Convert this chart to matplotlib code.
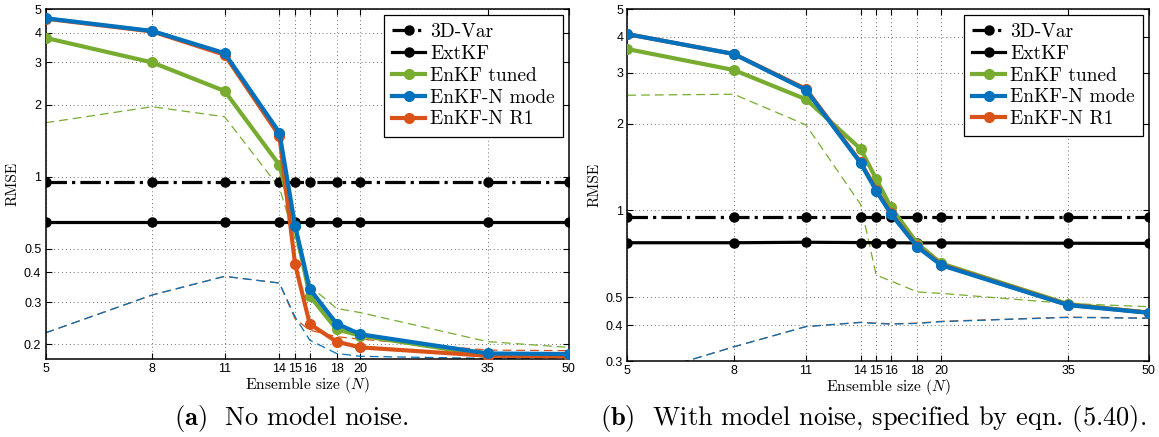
import matplotlib
matplotlib.use("Agg")
import matplotlib.pyplot as plt
from matplotlib.ticker import FixedLocator, FixedFormatter, NullLocator

plt.rcParams["mathtext.fontset"] = "cm"
plt.rcParams["axes.unicode_minus"] = False

# Ensemble sizes
N = [5, 8, 11, 14, 15, 16, 18, 20, 35, 50]

# (a) no model noise
var3d_a = [0.95, 0.95, 0.95, 0.95, 0.95, 0.95, 0.95, 0.95, 0.95, 0.95]
extkf_a = [0.645, 0.645, 0.645, 0.645, 0.645, 0.645, 0.645, 0.645, 0.645, 0.645]
tuned_a = [3.80, 3.00, 2.28, 1.12, 0.62, 0.318, 0.231, 0.217, 0.180, 0.179]
mode_a = [4.59, 4.06, 3.28, 1.53, 0.624, 0.340, 0.244, 0.220, 0.183, 0.182]
r1_a = [4.57, 4.04, 3.23, 1.48, 0.432, 0.243, 0.205, 0.194, 0.179, 0.178]
tuned_spread_a = [1.68, 1.96, 1.78, 0.90, 0.55, 0.35, 0.282, 0.271, 0.205, 0.194]
mode_spread_a = [0.223, 0.321, 0.384, 0.360, 0.260, 0.208, 0.183, 0.178, 0.1745, 0.1745]
r1_spread_a = [0.223, 0.321, 0.384, 0.360, 0.255, 0.229, 0.215, 0.210, 0.189, 0.188]

# (b) with model noise
var3d_b = [0.95, 0.95, 0.95, 0.95, 0.95, 0.95, 0.95, 0.95, 0.95, 0.95]
extkf_b = [0.772, 0.772, 0.775, 0.773, 0.772, 0.772, 0.771, 0.771, 0.769, 0.768]
tuned_b = [3.63, 3.07, 2.43, 1.635, 1.287, 1.027, 0.767, 0.654, 0.473, 0.441]
mode_b = [4.09, 3.49, 2.62, 1.46, 1.17, 0.974, 0.746, 0.645, 0.469, 0.441]
r1_b = [4.09, 3.49, 2.64, 1.47, 1.18, 0.98, 0.750, 0.648, 0.470, 0.442]
tuned_spread_b = [2.51, 2.53, 1.98, 1.05, 0.596, 0.569, 0.521, 0.515, 0.475, 0.463]
mode_spread_b = [0.26, 0.336, 0.395, 0.408, 0.405, 0.403, 0.405, 0.411, 0.425, 0.422]
r1_spread_b = [0.26, 0.336, 0.395, 0.409, 0.406, 0.404, 0.406, 0.412, 0.426, 0.423]

# Axis ticks
x_ticks = [5, 8, 11, 14, 15, 16, 18, 20, 35, 50]
x_ticklabels = ["5", "8", "11", "14", "15", "16", "18", "20", "35", "50"]
y_ticks_a = [0.2, 0.3, 0.4, 0.5, 1, 2, 3, 4, 5]
y_ticklabels_a = ["0.2", "0.3", "0.4", "0.5", "1", "2", "3", "4", "5"]
y_ticks_b = [0.3, 0.4, 0.5, 1, 2, 3, 4, 5]
y_ticklabels_b = ["0.3", "0.4", "0.5", "1", "2", "3", "4", "5"]

C_BLUE = "#0072BD"
C_ORANGE = "#D95319"
C_GREEN = "#77AC30"

SERIF = "cmr10"
TICKFONT = "Liberation Sans"

W, H = 1159, 437
fig = plt.figure(figsize=(W / 100, H / 100), dpi=100)


def axes_px(x0, x1, y0, y1):
    return fig.add_axes([x0 / W, 1 - y1 / H, (x1 - x0) / W, (y1 - y0) / H])


def draw_panel(ax, var3d, extkf, tuned, mode, r1, tsp, msp, rsp,
               ylim, yticks, yticklabels):
    ax.set_xscale("log")
    ax.set_yscale("log")

    dash = (0, (7, 4))
    ax.plot(N, tsp, color=C_GREEN, lw=0.9, ls=dash, zorder=2)
    ax.plot(N, rsp, color=C_ORANGE, lw=0.9, ls=dash, zorder=2)
    ax.plot(N, msp, color=C_BLUE, lw=0.9, ls=dash, zorder=2)

    ax.plot(N, var3d, color="black", lw=2.3, ls="-.", marker="o", ms=6.5,
            label="3D-Var", zorder=3)
    ax.plot(N, extkf, color="black", lw=2.3, ls="-", marker="o", ms=6.5,
            label="ExtKF", zorder=3)
    ax.plot(N, tuned, color=C_GREEN, lw=3.0, marker="o", ms=7,
            label="EnKF tuned", zorder=4)
    ax.plot(N, r1, color=C_ORANGE, lw=3.0, marker="o", ms=7,
            label="EnKF-N R1", zorder=5)
    ax.plot(N, mode, color=C_BLUE, lw=3.0, marker="o", ms=7,
            label="EnKF-N mode", zorder=6)

    ax.set_xlim(5, 50)
    ax.set_ylim(*ylim)
    ax.xaxis.set_major_locator(FixedLocator(x_ticks))
    ax.xaxis.set_major_formatter(FixedFormatter(x_ticklabels))
    ax.xaxis.set_minor_locator(NullLocator())
    ax.yaxis.set_major_locator(FixedLocator(yticks))
    ax.yaxis.set_major_formatter(FixedFormatter(yticklabels))
    ax.yaxis.set_minor_locator(NullLocator())

    ax.tick_params(which="both", direction="in", top=True, right=True,
                   length=4, width=0.8, labelsize=9, pad=3, colors="black")
    for lab in ax.get_xticklabels() + ax.get_yticklabels():
        lab.set_fontfamily(TICKFONT)
    ax.grid(True, which="major", ls=(0, (1, 3)), color="0.45", lw=0.7)
    ax.set_axisbelow(True)
    for sp in ax.spines.values():
        sp.set_linewidth(1.1)

    ax.set_xlabel(r"Ensemble size ($N$)", family=SERIF, fontsize=11.2, labelpad=0)
    ax.set_ylabel("RMSE", family=SERIF, fontsize=11, labelpad=3)

    handles, labels = ax.get_legend_handles_labels()
    order = ["3D-Var", "ExtKF", "EnKF tuned", "EnKF-N mode", "EnKF-N R1"]
    hmap = dict(zip(labels, handles))
    leg = ax.legend([hmap[k] for k in order], order, loc="upper right",
                    prop={"family": SERIF, "size": 14}, frameon=True,
                    fancybox=False, framealpha=1, edgecolor="black",
                    borderaxespad=0.3, handlelength=1.7, handletextpad=0.25,
                    labelspacing=0.2, borderpad=0.42)
    leg.get_frame().set_linewidth(0.9)
    leg.set_zorder(10)


ax_a = axes_px(45.5, 568.6, 9.3, 359.3)
draw_panel(ax_a, var3d_a, extkf_a, tuned_a, mode_a, r1_a,
           tuned_spread_a, mode_spread_a, r1_spread_a,
           (0.173, 5), y_ticks_a, y_ticklabels_a)

ax_b = axes_px(627.4, 1148.8, 9.0, 361.0)
draw_panel(ax_b, var3d_b, extkf_b, tuned_b, mode_b, r1_b,
           tuned_spread_b, mode_spread_b, r1_spread_b,
           (0.3, 5), y_ticks_b, y_ticklabels_b)

fig.text(291 / W, 1 - 418 / H, r"$\mathbf{(a)}$  No model noise.",
         family=SERIF, fontsize=19, ha="center", va="center")
fig.text(873 / W, 1 - 418 / H,
         r"$\mathbf{(b)}$  With model noise, specified by eqn. (5.40).",
         family=SERIF, fontsize=19, ha="center", va="center")

fig.savefig("out.png", dpi=100)
